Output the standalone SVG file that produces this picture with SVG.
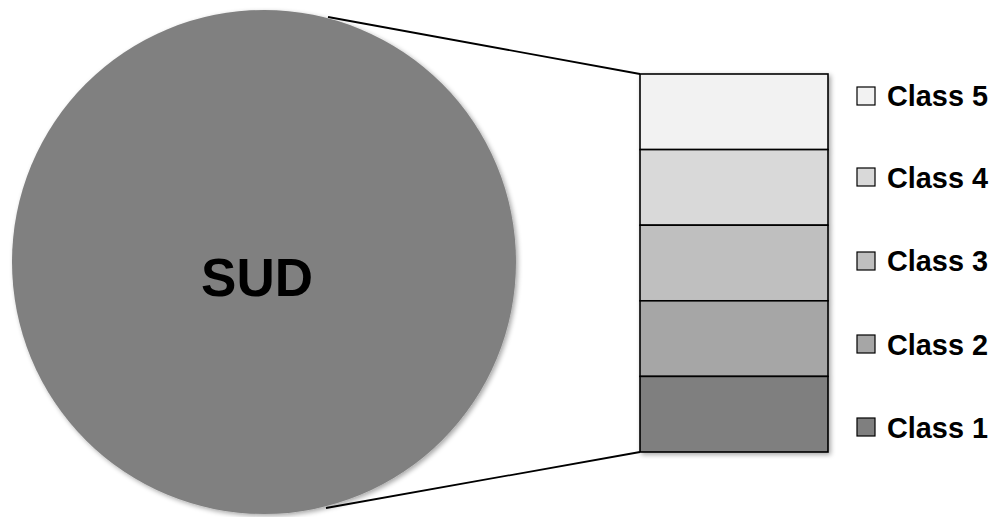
<svg xmlns="http://www.w3.org/2000/svg" width="995" height="517" viewBox="0 0 995 517">
  <defs>
    <filter id="soft" x="-10%" y="-10%" width="125%" height="125%">
      <feGaussianBlur in="SourceAlpha" stdDeviation="2.5"/>
      <feOffset dx="2" dy="2" result="b"/>
      <feComponentTransfer><feFuncA type="linear" slope="0.35"/></feComponentTransfer>
      <feMerge><feMergeNode/><feMergeNode in="SourceGraphic"/></feMerge>
    </filter>
  </defs>
  <style>
    .seg { stroke: #000; stroke-width: 1.6; }
    .key { stroke: #000; stroke-width: 1.2; }
    .lbl { font-family: "Liberation Sans", Arial, sans-serif; font-weight: bold; font-size: 29px; fill: #000; }
    .conn { stroke: #000; stroke-width: 1.8; fill: none; }
  </style>

  <!-- zoom lines from the circle to the stacked bar -->
  <g id="connectors">
    <line class="conn" x1="328" y1="17" x2="640" y2="74"/>
    <line class="conn" x1="326" y1="508" x2="640" y2="452"/>
  </g>

  <g id="sud">
    <circle cx="264" cy="262" r="252" fill="#808080" filter="url(#soft)"/>
    <text x="257" y="296" text-anchor="middle" font-family="Liberation Sans, Arial, sans-serif" font-weight="bold" font-size="53" fill="#000">SUD</text>
  </g>

  <!-- stacked bar, top to bottom -->
  <g id="bar" filter="url(#soft)">
    <rect id="bar-class5" class="seg" x="640" y="74" width="188" height="75.6" fill="#f2f2f2"/>
    <rect id="bar-class4" class="seg" x="640" y="149.6" width="188" height="75.6" fill="#d9d9d9"/>
    <rect id="bar-class3" class="seg" x="640" y="225.2" width="188" height="75.6" fill="#bfbfbf"/>
    <rect id="bar-class2" class="seg" x="640" y="300.8" width="188" height="75.6" fill="#a6a6a6"/>
    <rect id="bar-class1" class="seg" x="640" y="376.4" width="188" height="75.6" fill="#7f7f7f"/>
  </g>

  <!-- legend -->
  <g id="legend-class5">
    <rect class="key" x="857" y="87" width="18" height="18" fill="#f2f2f2"/>
    <text class="lbl" x="887" y="106" textLength="101" lengthAdjust="spacingAndGlyphs">Class 5</text>
  </g>
  <g id="legend-class4">
    <rect class="key" x="857" y="168" width="18" height="18" fill="#d9d9d9"/>
    <text class="lbl" x="887" y="188" textLength="101" lengthAdjust="spacingAndGlyphs">Class 4</text>
  </g>
  <g id="legend-class3">
    <rect class="key" x="857" y="252" width="18" height="18" fill="#bfbfbf"/>
    <text class="lbl" x="887" y="271" textLength="101" lengthAdjust="spacingAndGlyphs">Class 3</text>
  </g>
  <g id="legend-class2">
    <rect class="key" x="857" y="335" width="18" height="18" fill="#a6a6a6"/>
    <text class="lbl" x="887" y="355" textLength="101" lengthAdjust="spacingAndGlyphs">Class 2</text>
  </g>
  <g id="legend-class1">
    <rect class="key" x="857" y="418" width="18" height="18" fill="#7f7f7f"/>
    <text class="lbl" x="887" y="438" textLength="101" lengthAdjust="spacingAndGlyphs">Class 1</text>
  </g>
</svg>
